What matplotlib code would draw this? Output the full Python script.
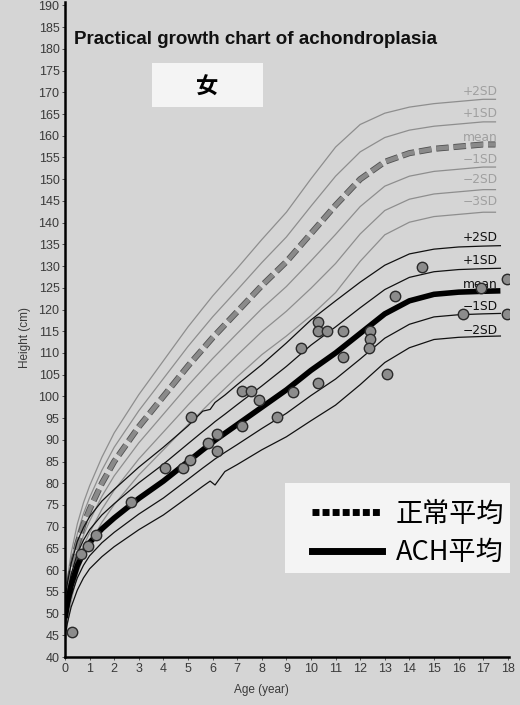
import matplotlib
matplotlib.use('Agg')
import matplotlib.pyplot as plt
import matplotlib.patheffects as pe
from matplotlib.patches import Rectangle

# normal (Japanese girls) reference curves
ages_n = [0, 0.1, 0.25, 0.5, 0.75, 1, 1.5, 2, 3, 4, 5, 6, 7, 8, 9, 10, 11, 12, 13, 14, 15, 16, 17, 17.5]
n_p2 = [53, 58.2, 63.9, 70.6, 75.5, 79.4, 86, 91.6, 100.4, 108.2, 116, 123.1, 129.5, 136.1, 142.4, 150.1, 157.4, 162.6, 165.2, 166.6, 167.4, 167.9, 168.4, 168.4]
n_p1 = [51, 56.1, 61.7, 68.3, 73, 76.7, 83, 88.3, 96.7, 104.1, 111.5, 118.3, 124.5, 130.8, 136.7, 143.8, 150.7, 156.3, 159.6, 161.3, 162.2, 162.7, 163.2, 163.2]
n_mean = [49, 54, 59.5, 66, 70.5, 74, 80, 85, 93, 100, 107, 113.5, 119.5, 125.5, 131, 137.5, 144, 150, 154, 156, 157, 157.5, 158, 158]
n_m1 = [47, 51.9, 57.3, 63.7, 68, 71.3, 77, 81.7, 89.3, 95.9, 102.5, 108.7, 114.5, 120.2, 125.3, 131.2, 137.3, 143.7, 148.4, 150.7, 151.8, 152.3, 152.8, 152.8]
n_m2 = [45, 49.8, 55.1, 61.4, 65.5, 68.6, 74, 78.4, 85.6, 91.8, 98, 103.9, 109.5, 114.9, 119.6, 124.9, 130.6, 137.4, 142.8, 145.4, 146.6, 147.1, 147.6, 147.6]
n_m3 = [43, 47.7, 52.9, 59.1, 63, 65.9, 71, 75.1, 81.9, 87.7, 93.5, 99.1, 104.5, 109.6, 113.9, 118.6, 123.9, 131.1, 137.2, 140.1, 141.4, 141.9, 142.4, 142.4]

# achondroplasia curves
ages_a = [0, 0.1, 0.25, 0.5, 0.75, 1, 1.5, 2, 3, 4, 5, 5.6, 5.9, 6.1, 6.5, 7, 8, 9, 10, 11, 12, 13, 14, 15, 16, 17, 17.7]
a_p2 = [53, 57.1, 61.5, 66.6, 69.8, 72.3, 75.9, 78.6, 83.7, 88.3, 93.2, 96.6, 97.0, 98.6, 100.3, 102.7, 107.3, 112.3, 117.6, 122, 126.3, 130.2, 132.8, 133.9, 134.4, 134.6, 134.7]
a_p1 = [51, 54.8, 59, 63.8, 66.9, 69.3, 72.7, 75.3, 80.1, 84.4, 89.1, 91.9, 93.25, 94.2, 95.9, 98.1, 102.4, 106.9, 111.8, 116, 120.4, 124.6, 127.4, 128.7, 129.2, 129.4, 129.5]
a_mean = [49, 52.5, 56.5, 61, 64, 66.3, 69.5, 72, 76.5, 80.5, 85, 87.7, 89, 89.9, 91.5, 93.5, 97.5, 101.5, 106, 110, 114.5, 119, 122, 123.5, 124, 124.2, 124.3]
a_m1 = [47, 50.2, 54, 58.2, 61.1, 63.3, 66.3, 68.7, 72.9, 76.6, 80.9, 83.5, 84.75, 85.6, 87.1, 88.9, 92.6, 96.1, 100.2, 104, 108.6, 113.4, 116.6, 118.3, 118.8, 119, 119.1]
a_m2 = [45, 47.9, 51.5, 55.4, 58.2, 60.3, 63.1, 65.4, 69.3, 72.7, 76.8, 79.3, 80.5, 79.6, 82.7, 84.3, 87.7, 90.7, 94.4, 98, 102.7, 107.8, 111.2, 113.1, 113.6, 113.8, 113.9]

# measured patients
pt_age = [0.28, 0.65, 0.95, 1.25, 2.7, 4.08, 4.78, 5.1, 5.12, 5.8, 6.18, 6.18,
          7.2, 7.2, 7.56, 7.9, 8.6, 9.27, 9.6, 10.3, 10.3, 10.3, 10.65, 11.3, 11.3,
          12.4, 12.4, 12.36, 13.1, 13.4, 14.5, 16.2, 16.9, 17.97, 17.97]
pt_h = [45.8, 63.7, 65.6, 68.1, 75.6, 83.4, 83.4, 85.3, 95.3, 89.3, 91.4, 87.4,
        93.2, 101.3, 101.3, 99.2, 95.3, 101.1, 111.2, 117.2, 115.1, 103.1, 115.1, 115.1, 109.1,
        115.1, 113.3, 111.2, 105.2, 123, 129.9, 119, 125, 127.1, 119]

sd_labels = ['+2SD', '+1SD', 'mean', '\u22121SD', '\u22122SD', '\u22123SD']
n_label_h = [170.2, 165.1, 159.6, 154.5, 149.9, 144.8]
a_label_h = [136.5, 131.2, 125.7, 120.6, 115.1]

bg = '#d5d5d5'
fig = plt.figure(figsize=(5.2, 7.05), dpi=100, facecolor=bg)
ax = fig.add_axes([65/520, 48/705, 444/520, 655/705], facecolor=bg)

for ys in [n_p2, n_p1, n_m1, n_m2, n_m3]:
    ax.plot(ages_n, ys, color='#8e8e8e', lw=0.9)
ax.plot(ages_n, n_mean, color='#8a8a8a', lw=3.2, dashes=(2.8, 1.1),
        path_effects=[pe.Stroke(linewidth=4.4, foreground='#505050'), pe.Normal()])

for ys in [a_p2, a_p1, a_m1, a_m2]:
    ax.plot(ages_a, ys, color='#111', lw=0.9)
ax.plot(ages_a, a_mean, color='black', lw=4, solid_capstyle='butt')

ax.plot(pt_age, pt_h, 'o', ms=7.5, mfc='#8c8c8c', mec='#2a2a2a', mew=1, zorder=5)

for lab, h in zip(sd_labels, n_label_h):
    ax.text(16.9, h, lab, ha='center', va='center', fontsize=8.8, color='#a0a0a0')
for lab, h in zip(sd_labels[:5], a_label_h):
    ax.text(16.9, h, lab, ha='center', va='center', fontsize=8.8, color='#111')

ax.set_xlim(0, 18.05)
ax.set_ylim(40, 190.8)
ax.set_xticks(range(0, 19))
ax.set_yticks(range(40, 191, 5))
ax.tick_params(labelsize=9, colors='#3a3a3a', length=2, width=0.6, pad=2)
for t in ax.get_xticklabels() + ax.get_yticklabels():
    t.set_family('Liberation Sans')
for s in ['top', 'right']:
    ax.spines[s].set_visible(False)
for s in ['left', 'bottom']:
    ax.spines[s].set_linewidth(1.8)
    ax.spines[s].set_color('black')

fig.text(25/520, 1 - 338/705, 'Height (cm)', rotation=90, ha='center', va='center',
         fontsize=8.5, color='#3a3a3a', family='Liberation Sans')
fig.text(261/520, 1 - 690/705, 'Age (year)', ha='center', va='center',
         fontsize=8.5, color='#3a3a3a', family='Liberation Sans')

fig.text(74/520, 1 - 40/705, 'Practical growth chart of achondroplasia', ha='left', va='center',
         fontsize=13.5, fontweight='bold', color='#111', family='Liberation Sans')

# white label box with the sex
fig.patches.append(Rectangle((152/520, 1 - 107/705), 111/520, 44/705,
                             transform=fig.transFigure, fc='#f4f4f4', ec='none', zorder=3))
fig.text(207/520, 1 - 87/705, '女', ha='center', va='center', fontsize=16, fontweight='bold',
         family=['Noto Sans CJK JP'], zorder=4)

# legend panel (inside the axes so the legend sits on top of it)
ax.add_patch(Rectangle((285/520, 1 - 573/705), 225/520, 90/705, transform=fig.transFigure,
                       fc='#f4f4f4', ec='none', zorder=7, clip_on=False))
h1, = ax.plot([], [], color='black', lw=5, dashes=(1.0, 0.45))
h2, = ax.plot([], [], color='black', lw=5)
leg = ax.legend([h1, h2], ['正常平均', 'ACH平均'], loc='upper right',
                bbox_to_anchor=(507/520, 1 - 498/705), bbox_transform=fig.transFigure,
                prop={'family': ['Noto Sans CJK JP', 'DejaVu Sans'], 'size': 19.5},
                handlelength=2.6, handletextpad=0.5, labelspacing=0.42,
                borderpad=0.1, borderaxespad=0, frameon=False)
leg.set_zorder(8)

fig.savefig('out.png', dpi=100, facecolor=bg)
